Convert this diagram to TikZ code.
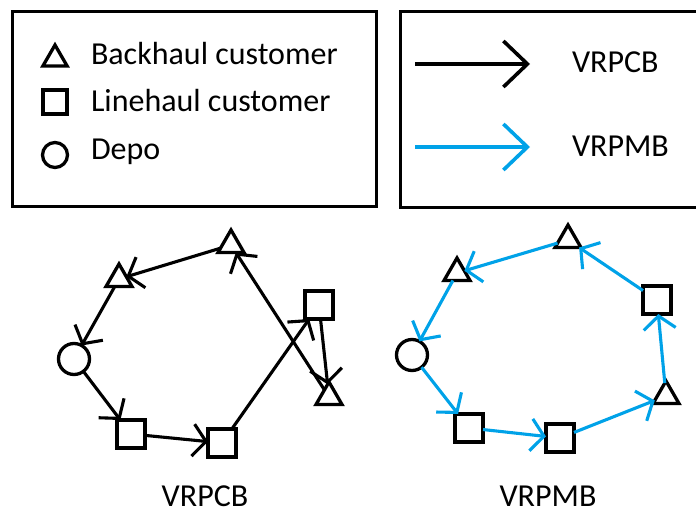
\documentclass[tikz,border=0pt]{standalone}
\usepackage{fontspec}
\setmainfont{Carlito}
\usetikzlibrary{arrows.meta,shapes.geometric}
\definecolor{paintblue}{RGB}{0,162,232}

\begin{document}
\begin{tikzpicture}[x=1pt,y=-1pt,
  every node/.style={inner sep=0pt, outer sep=0pt},
  shapeline/.style={draw, line width=3.3pt},
  tri/.style={shapeline, regular polygon, regular polygon sides=3, minimum size=30pt},
  sq/.style={shapeline, rectangle, minimum size=28pt},
  depo/.style={shapeline, circle, minimum size=31pt},
  lbl/.style={font=\fontsize{32}{38}\selectfont, anchor=base west},
  tourlabel/.style={font=\fontsize{32}{38}\selectfont, anchor=base},
  framebox/.style={line width=3pt},
  route/.style={line width=3.1pt, -{Straight Barb[length=13pt,width=32pt]}},
  cb/.style={route, black},
  mb/.style={route, paintblue},
  keyarrow/.style={line width=3.6pt, -{Straight Barb[length=24pt,width=46pt]}}
]
\useasboundingbox (0,0) rectangle (696,510);

% legend: node types
\draw[framebox] (12,12) rectangle (376,207);
\node[tri, minimum size=28pt] (kt) at (55,59) {};
\node[sq, minimum size=24pt] (ks) at (55,102) {};
\node[depo, minimum size=25pt] (kc) at (55,155) {};
\node[lbl] (ktl) at (91,65) {Backhaul customer};
\node[lbl] (ksl) at (91,112) {Linehaul customer};
\node[lbl] (kcl) at (91,160) {Depo};

% legend: route types
\draw[framebox] (702,12) -- (400,12) -- (400,208) -- (702,208);
\coordinate (ka1) at (415,64);
\coordinate (ka2) at (530,64);
\coordinate (kb1) at (415,147);
\coordinate (kb2) at (530,147);
\draw[keyarrow, black] (ka1) -- (ka2);
\draw[keyarrow, paintblue] (kb1) -- (kb2);
\node[lbl] (kal) at (572,73) {VRPCB};
\node[lbl] (kbl) at (572,157) {VRPMB};

% VRPCB tour
\node[tri] (a1) at (231,245) {};
\node[tri] (a2) at (119,279) {};
\node[depo] (a0) at (74,359) {};
\node[sq] (a3) at (131,434) {};
\node[sq] (a4) at (222,443) {};
\node[sq] (a5) at (319,305) {};
\node[tri] (a6) at (329,397) {};
\draw[cb] (a0) -- (a3);
\draw[cb] (a3) -- (a4);
\draw[cb] (a4) -- (a5);
\draw[cb] (a5) -- (a6);
\draw[cb] (a6) -- (a1);
\draw[cb] (a1) -- (a2);
\draw[cb] (a2) -- (a0);
\node[tourlabel] (acap) at (205,506) {VRPCB};

% VRPMB tour
\node[tri] (b1) at (568,240) {};
\node[tri] (b2) at (457,273) {};
\node[depo] (b0) at (412,355) {};
\node[sq] (b3) at (469,428) {};
\node[sq] (b4) at (560,438) {};
\node[tri] (b5) at (666,396) {};
\node[sq] (b6) at (657,300) {};
\draw[mb] (b0) -- (b3);
\draw[mb] (b3) -- (b4);
\draw[mb] (b4) -- (b5);
\draw[mb] (b5) -- (b6);
\draw[mb] (b6) -- (b1);
\draw[mb] (b1) -- (b2);
\draw[mb] (b2) -- (b0);
\node[tourlabel] (bcap) at (548,506) {VRPMB};
\end{tikzpicture}
\end{document}
